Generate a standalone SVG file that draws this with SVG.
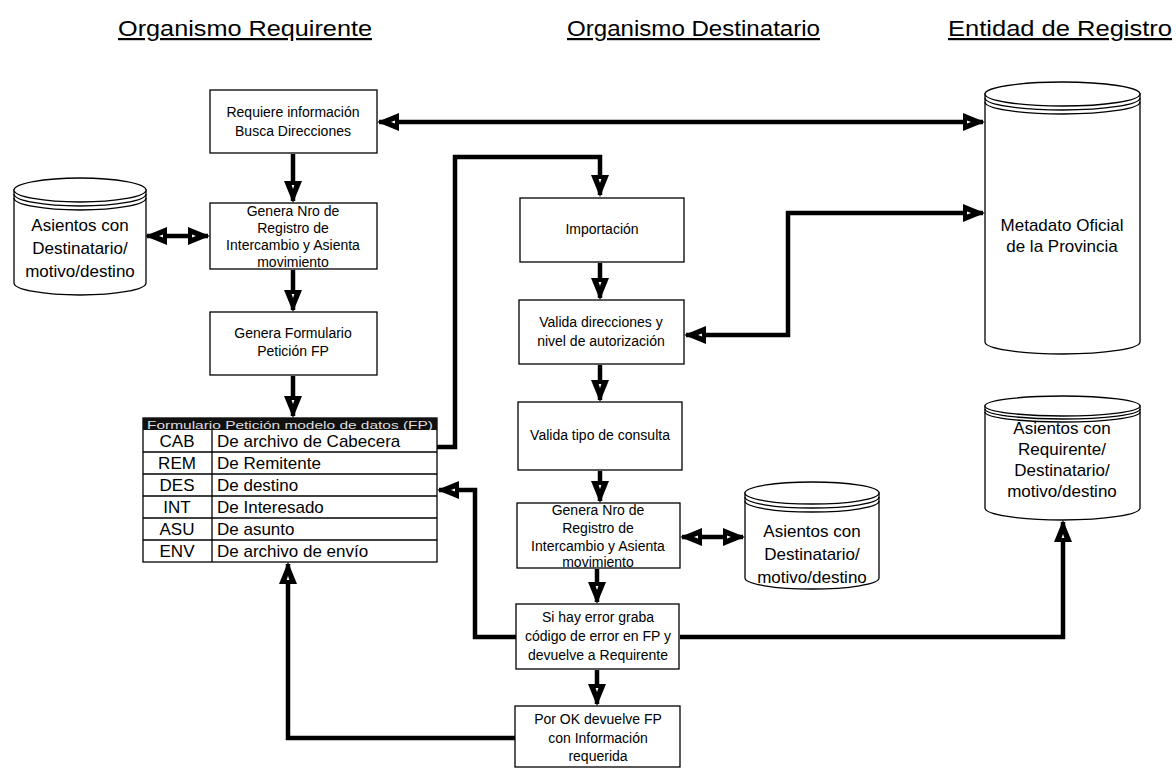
<svg xmlns="http://www.w3.org/2000/svg" width="1176" height="768" viewBox="0 0 1176 768">
<style>
text{font-family:"Liberation Sans",Arial,sans-serif;fill:#000}
.title{font-size:22px;text-decoration:underline}
.bx{fill:#fff;stroke:#000;stroke-width:1.3}
.bt{font-size:14px;text-anchor:middle}
.ct{font-size:17px;text-anchor:middle}
.cyl{fill:#fff;stroke:#000;stroke-width:1.3}
.rim{fill:none;stroke:#000;stroke-width:1.3}
.tt{font-size:17px}
.conn{fill:none;stroke:#000;stroke-width:4.5;stroke-linejoin:miter}
</style>
<defs>
<marker id="ah" viewBox="0 0 22 18" markerWidth="22" markerHeight="18" refX="20" refY="9" orient="auto-start-reverse" markerUnits="userSpaceOnUse">
<path d="M0,0 L22,9 L0,18 Z" fill="#000"/>
<path d="M4,7.6 L8,9 L4,10.4 Z" fill="#fff"/>
</marker>
</defs>
<rect width="1176" height="768" fill="#fff"/>

<g id="titles">
<text class="title" x="118" y="36" textLength="254" lengthAdjust="spacingAndGlyphs">Organismo Requirente</text>
<text class="title" x="567" y="36" textLength="253" lengthAdjust="spacingAndGlyphs">Organismo Destinatario</text>
<text class="title" x="948" y="36" textLength="224" lengthAdjust="spacingAndGlyphs">Entidad de Registro</text>
</g>

<g id="connectors">
<path class="conn" d="M293,154 V201" marker-end="url(#ah)"/>
<path class="conn" d="M293,270 V310" marker-end="url(#ah)"/>
<path class="conn" d="M293,376 V416" marker-end="url(#ah)"/>
<path class="conn" d="M147,236 H208" marker-start="url(#ah)" marker-end="url(#ah)"/>
<path class="conn" d="M379,122 H983" marker-start="url(#ah)" marker-end="url(#ah)"/>
<path class="conn" d="M437,447 H455 V157 H600 V195" marker-end="url(#ah)"/>
<path class="conn" d="M600,263 V298" marker-end="url(#ah)"/>
<path class="conn" d="M686,335 H788 V213 H983" marker-start="url(#ah)" marker-end="url(#ah)"/>
<path class="conn" d="M600,365 V400" marker-end="url(#ah)"/>
<path class="conn" d="M600,471 V501" marker-end="url(#ah)"/>
<path class="conn" d="M682,537 H743" marker-start="url(#ah)" marker-end="url(#ah)"/>
<path class="conn" d="M597,569 V602" marker-end="url(#ah)"/>
<path class="conn" d="M516,637 H475 V490 H439" marker-end="url(#ah)"/>
<path class="conn" d="M680,637 H1063 V522" marker-end="url(#ah)"/>
<path class="conn" d="M597,670 V704" marker-end="url(#ah)"/>
<path class="conn" d="M515,738 H288 V564" marker-end="url(#ah)"/>
</g>

<g id="n-requiere">
<rect class="bx" x="210" y="90" width="167" height="63"/>
<text class="bt" x="293" y="117">Requiere información</text>
<text class="bt" x="293" y="136">Busca Direcciones</text>
</g>

<g id="n-genera1">
<rect class="bx" x="210" y="203" width="167" height="66"/>
<text class="bt" x="293" y="216">Genera Nro de</text>
<text class="bt" x="293" y="233">Registro de</text>
<text class="bt" x="293" y="250">Intercambio y Asienta</text>
<text class="bt" x="293" y="267">movimiento</text>
</g>

<g id="n-formulario">
<rect class="bx" x="210" y="312" width="167" height="63"/>
<text class="bt" x="293" y="338">Genera  Formulario</text>
<text class="bt" x="293" y="356">Petición FP</text>
</g>

<g id="n-tabla">
<rect x="143" y="418" width="294" height="144" fill="#fff" stroke="#000" stroke-width="1.3"/>
<rect x="143" y="418" width="294" height="12" fill="#111"/>
<text x="290" y="428.5" font-size="11.5" text-anchor="middle" style="fill:#ddd" textLength="286" lengthAdjust="spacingAndGlyphs">Formulario Petición modelo de datos (FP)</text>
<g stroke="#000" stroke-width="1.3">
<line x1="143" y1="452" x2="437" y2="452"/>
<line x1="143" y1="474" x2="437" y2="474"/>
<line x1="143" y1="496" x2="437" y2="496"/>
<line x1="143" y1="518" x2="437" y2="518"/>
<line x1="143" y1="540" x2="437" y2="540"/>
<line x1="212" y1="430" x2="212" y2="562"/>
</g>
<g class="tt">
<text x="177" y="447" text-anchor="middle">CAB</text>
<text x="177" y="469" text-anchor="middle">REM</text>
<text x="177" y="491" text-anchor="middle">DES</text>
<text x="177" y="513" text-anchor="middle">INT</text>
<text x="177" y="535" text-anchor="middle">ASU</text>
<text x="177" y="557" text-anchor="middle">ENV</text>
<text x="217" y="447">De archivo de Cabecera</text>
<text x="217" y="469">De Remitente</text>
<text x="217" y="491">De destino</text>
<text x="217" y="513">De Interesado</text>
<text x="217" y="535">De asunto</text>
<text x="217" y="557">De archivo de envío</text>
</g>
</g>

<g id="n-asientos-izq">
<path class="cyl" d="M14,190 V283 A66,12 0 0 0 146,283 V190 Z"/>
<ellipse class="cyl" cx="80" cy="190" rx="66" ry="12"/>
<path class="rim" d="M14,194 A66,12 0 0 0 146,194 M14,198 A66,12 0 0 0 146,198"/>
<text class="ct" x="80" y="231">Asientos con</text>
<text class="ct" x="80" y="254">Destinatario/</text>
<text class="ct" x="80" y="277">motivo/destino</text>
</g>

<g id="n-importacion">
<rect class="bx" x="520" y="198" width="164" height="64"/>
<text class="bt" x="602" y="234">Importación</text>
</g>

<g id="n-valida-dir">
<rect class="bx" x="519" y="300" width="165" height="64"/>
<text class="bt" x="601" y="327">Valida direcciones y</text>
<text class="bt" x="601" y="346">nivel de autorización</text>
</g>

<g id="n-valida-tipo">
<rect class="bx" x="518" y="402" width="164" height="68"/>
<text class="bt" x="600" y="440">Valida tipo de consulta</text>
</g>

<g id="n-genera2">
<rect class="bx" x="517" y="503" width="163" height="65"/>
<text class="bt" x="598" y="515">Genera Nro de</text>
<text class="bt" x="598" y="533">Registro de</text>
<text class="bt" x="598" y="551">Intercambio y Asienta</text>
<text class="bt" x="598" y="567">movimiento</text>
</g>

<g id="n-asientos-mid">
<path class="cyl" d="M745,493 V578 A67,11 0 0 0 879,578 V493 Z"/>
<ellipse class="cyl" cx="812" cy="493" rx="67" ry="11"/>
<path class="rim" d="M745,497 A67,11 0 0 0 879,497 M745,501 A67,11 0 0 0 879,501"/>
<text class="ct" x="812" y="537">Asientos con</text>
<text class="ct" x="812" y="560">Destinatario/</text>
<text class="ct" x="812" y="583">motivo/destino</text>
</g>

<g id="n-error">
<rect class="bx" x="516" y="604" width="163" height="65"/>
<text class="bt" x="598" y="622">Si hay error graba</text>
<text class="bt" x="598" y="641">código de error en FP y</text>
<text class="bt" x="598" y="660">devuelve a Requirente</text>
</g>

<g id="n-ok">
<rect class="bx" x="515" y="706" width="165" height="61"/>
<text class="bt" x="598" y="724">Por OK devuelve FP</text>
<text class="bt" x="598" y="743">con Información</text>
<text class="bt" x="598" y="761">requerida</text>
</g>

<g id="n-metadato">
<path class="cyl" d="M985,94 V342 A77.5,12 0 0 0 1140,342 V94 Z"/>
<ellipse class="cyl" cx="1062.5" cy="94" rx="77.5" ry="12"/>
<path class="rim" d="M985,98 A77.5,12 0 0 0 1140,98 M985,102 A77.5,12 0 0 0 1140,102"/>
<text class="ct" x="1062" y="231">Metadato Oficial</text>
<text class="ct" x="1062" y="252">de la Provincia</text>
</g>

<g id="n-asientos-der">
<path class="cyl" d="M985,406 V508 A77.5,12 0 0 0 1140,508 V406 Z"/>
<ellipse class="cyl" cx="1062.5" cy="406" rx="77.5" ry="10"/>
<path class="rim" d="M985,409 A77.5,10 0 0 0 1140,409 M985,412 A77.5,10 0 0 0 1140,412"/>
<text class="ct" x="1062" y="434" font-size="16">Asientos con</text>
<text class="ct" x="1062" y="455" font-size="16">Requirente/</text>
<text class="ct" x="1062" y="476" font-size="16">Destinatario/</text>
<text class="ct" x="1062" y="497" font-size="16">motivo/destino</text>
</g>
</svg>
